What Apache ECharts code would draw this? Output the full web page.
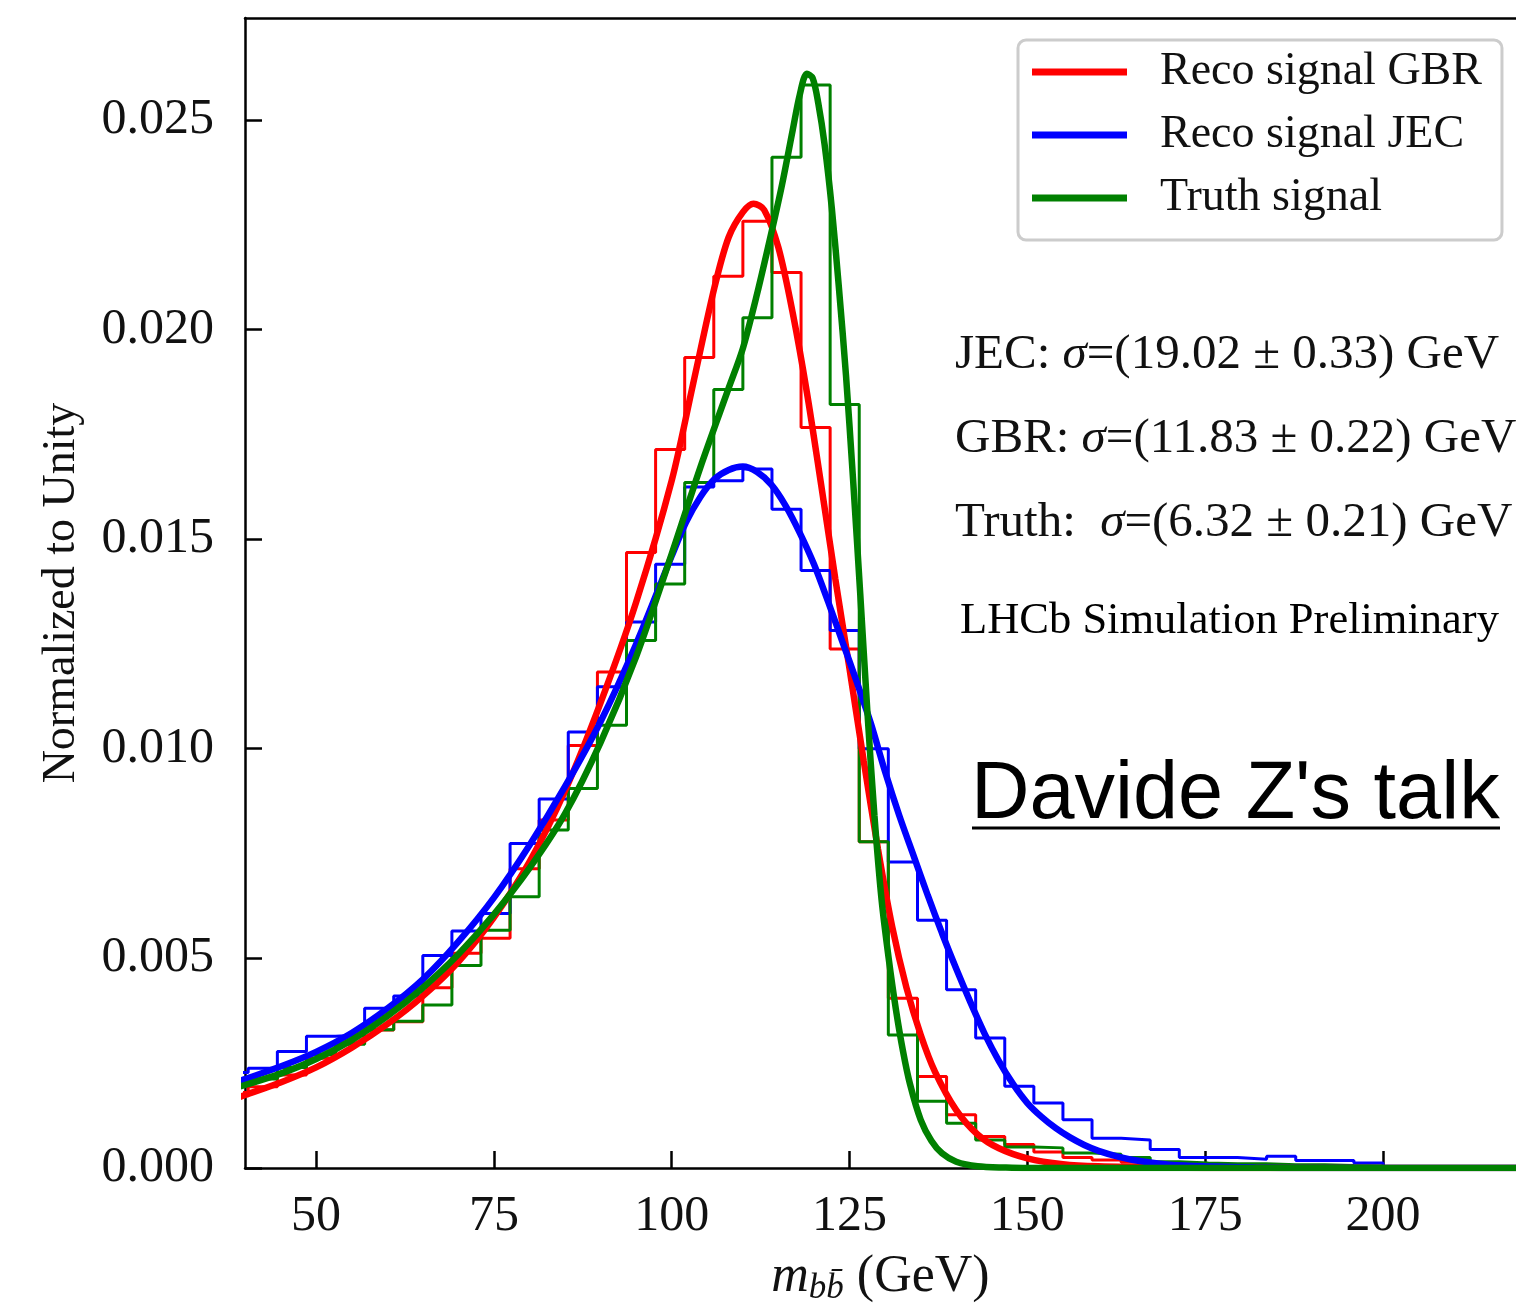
<!DOCTYPE html>
<html>
<head>
<meta charset="utf-8">
<script src="https://cdn.jsdelivr.net/npm/echarts@6/dist/echarts.min.js"></script>
<style>
  html, body { margin: 0; padding: 0; background: #fff; }
  #main { width: 1516px; height: 1311px; }
</style>
</head>
<body>
<div id="main"></div>
<script>
// left edges of the histogram bins (GeV); the last bin closes at histEnd
var binEdges = [36.36, 40.45, 44.55, 48.64, 52.73, 56.82, 60.91, 65.00, 69.09, 73.18,
  77.27, 81.36, 85.45, 89.55, 93.64, 97.73, 101.82, 105.91, 110.00, 114.09,
  118.18, 122.27, 126.36, 130.45, 134.55, 138.64, 142.73, 146.82, 150.91, 155.00,
  159.09, 163.18, 167.27, 171.36, 175.45, 179.55, 183.64, 187.73, 191.82, 195.91];
var histEnd = 200;

var gbrHist = [0.00180, 0.00194, 0.00222, 0.00262, 0.00298, 0.00329, 0.00349, 0.00430, 0.00512, 0.00548,
  0.00714, 0.00830, 0.01008, 0.01183, 0.01468, 0.01714, 0.01933, 0.02127, 0.02258, 0.02136,
  0.01766, 0.01238, 0.00778, 0.00405, 0.00218, 0.00127, 0.00075, 0.00056, 0.00038, 0.00025,
  0.00019, 0.00014, 0.00010, 0.00008, 0.00006, 0.00005, 0.00004, 0.00003, 0.00002, 0.00002];

var jecHist = [0.00228, 0.00238, 0.00278, 0.00314, 0.00318, 0.00381, 0.00410, 0.00507, 0.00565, 0.00607,
  0.00774, 0.00880, 0.01040, 0.01148, 0.01302, 0.01440, 0.01624, 0.01639, 0.01667, 0.01571,
  0.01425, 0.01282, 0.01000, 0.00730, 0.00591, 0.00425, 0.00310, 0.00195, 0.00155, 0.00115,
  0.00071, 0.00067, 0.00044, 0.00025, 0.00025, 0.00021, 0.00028, 0.00018, 0.00018, 0.00012];

var truthHist = [0.00198, 0.00212, 0.00240, 0.00270, 0.00295, 0.00330, 0.00350, 0.00389, 0.00483, 0.00567,
  0.00647, 0.00806, 0.00905, 0.01056, 0.01258, 0.01393, 0.01635, 0.01857, 0.02028, 0.02411,
  0.02583, 0.01821, 0.00778, 0.00317, 0.00159, 0.00107, 0.00067, 0.00050, 0.00048, 0.00036,
  0.00033, 0.00025, 0.00015, 0.00012, 0.00010, 0.00010, 0.00008, 0.00008, 0.00006, 0.00005];

// fitted curves as [GeV, value]
var gbrFit = [[36, 0.00150], [40, 0.00174], [45, 0.00204], [50, 0.00240], [55, 0.00287],
  [60, 0.00343], [65, 0.00410], [70, 0.00492], [75, 0.00598], [80, 0.00730], [85, 0.00900],
  [90, 0.01110], [95, 0.01350], [100, 0.01640], [103, 0.01870], [106, 0.02100], [108, 0.02220],
  [110, 0.02280], [111.5, 0.02300], [113, 0.02285], [115, 0.02195], [117, 0.02040], [119, 0.01850],
  [121, 0.01630], [123, 0.01405], [125, 0.01190], [127, 0.00970], [129, 0.00760], [131, 0.00575],
  [133, 0.00430], [135, 0.00318], [137, 0.00230], [140, 0.00138], [143, 0.00080], [146, 0.00047],
  [150, 0.00023], [155, 0.00009], [160, 0.00004], [170, 0.00001], [180, 0], [220, 0]];

var jecFit = [[36, 0.00188], [40, 0.00212], [45, 0.00242], [50, 0.00277], [55, 0.00322],
  [60, 0.00380], [65, 0.00450], [70, 0.00540], [75, 0.00645], [80, 0.00770], [85, 0.00910],
  [90, 0.01065], [95, 0.01250], [100, 0.01460], [102, 0.01540], [104, 0.01600], [106, 0.01643],
  [108, 0.01665], [110, 0.01673], [112, 0.01660], [114, 0.01630], [116, 0.01580], [118, 0.01515],
  [120, 0.01440], [122, 0.01350], [124, 0.01255], [126, 0.01160], [128, 0.01060], [130, 0.00945],
  [132, 0.00840], [134, 0.00745], [136, 0.00650], [138, 0.00560], [140, 0.00475], [142, 0.00395],
  [144, 0.00320], [146, 0.00255], [148, 0.00200], [150, 0.00155], [152, 0.00122], [154, 0.00095],
  [156, 0.00073], [158, 0.00055], [160, 0.00041], [163, 0.00026], [166, 0.00016], [170, 0.00008],
  [175, 0.00004], [182, 0.00001], [190, 0], [220, 0]];

var truthFit = [[36, 0.00178], [40, 0.00198], [45, 0.00225], [50, 0.00260], [55, 0.00305],
  [60, 0.00362], [65, 0.00430], [70, 0.00510], [75, 0.00605], [80, 0.00715], [85, 0.00845],
  [90, 0.01015], [95, 0.01220], [100, 0.01465], [104, 0.01670], [108, 0.01860], [110, 0.01955],
  [112, 0.02085], [114, 0.02230], [115.5, 0.02345], [117, 0.02475], [118, 0.02560], [119, 0.02610],
  [119.8, 0.02600], [120.6, 0.02540], [121.5, 0.02440], [122.5, 0.02290], [123.5, 0.02100],
  [124.5, 0.01890], [125.5, 0.01640], [126.5, 0.01370], [127.5, 0.01090], [128.5, 0.00840],
  [129.5, 0.00640], [130.5, 0.00500], [131.5, 0.00380], [132.5, 0.00280], [133.5, 0.00200],
  [135, 0.00115], [136.5, 0.00065], [138, 0.00035], [140, 0.00015], [143, 0.00004], [147, 0.00001],
  [150, 0], [220, 0]];

var xTicks = [50, 75, 100, 125, 150, 175, 200];
var yTicks = [0, 0.005, 0.010, 0.015, 0.020, 0.025];

var seriesNames = ['Reco signal GBR', 'Reco signal JEC', 'Truth signal'];
var seriesColors = ['#ff0000', '#0000ff', '#008000'];

var serif = '"Liberation Serif", "DejaVu Serif", serif';

function stepData(values) {
  var d = binEdges.map(function (e, i) { return [e, values[i]]; });
  d.push([histEnd, values[values.length - 1]]);
  d.push([histEnd, 0]);
  return d;
}

var chartDom = document.getElementById('main');
var myChart = echarts.init(chartDom);
var option;

var hists = [gbrHist, jecHist, truthHist];
var fits = [gbrFit, jecFit, truthFit];
var series = [];

hists.forEach(function (h, i) {
  series.push({
    name: seriesNames[i] + ' hist',
    type: 'line',
    step: 'end',
    data: stepData(h),
    symbol: 'none',
    lineStyle: { color: seriesColors[i], width: 3 },
    itemStyle: { color: seriesColors[i] },
    z: 2
  });
});
fits.forEach(function (f, i) {
  series.push({
    name: seriesNames[i],
    type: 'line',
    data: f,
    smooth: 0.3,
    symbol: 'none',
    lineStyle: { color: seriesColors[i], width: 6.5 },
    itemStyle: { color: seriesColors[i] },
    z: 3
  });
});

var annText = { fontFamily: serif, fontSize: 49, fill: '#111' };
var annSigma = { fontFamily: serif, fontStyle: 'italic', fontSize: 49, fill: '#111' };

option = {
  animation: false,
  backgroundColor: '#fff',
  grid: { left: 245, right: 0, top: 18, bottom: 141 },
  legend: {
    data: seriesNames,
    orient: 'vertical',
    left: 1018,
    top: 40,
    icon: 'rect',
    itemWidth: 95,
    itemHeight: 7,
    itemGap: 13,
    padding: [7, 20, 17, 14],
    backgroundColor: '#fff',
    borderColor: '#cccccc',
    borderWidth: 3,
    borderRadius: 8,
    textStyle: {
      fontFamily: serif,
      fontSize: 46,
      color: '#111',
      lineHeight: 44,
      padding: [6, 0, 0, 28]
    }
  },
  xAxis: [{
    type: 'value',
    position: 'bottom',
    min: 40,
    max: 218.7,
    axisLine: { show: true, lineStyle: { color: '#000', width: 2.5 } },
    axisTick: { show: true, inside: true, length: 17, customValues: xTicks, lineStyle: { color: '#000', width: 2.5 } },
    axisLabel: { customValues: xTicks, fontFamily: serif, fontSize: 50, color: '#111', margin: 24 },
    splitLine: { show: false },
    name: '{it|m}{sub|bb\u0304}{rm| (GeV)}',
    nameLocation: 'middle',
    nameGap: 80,
    nameTextStyle: {
      rich: {
        it: { fontFamily: serif, fontStyle: 'italic', fontSize: 52, color: '#111', lineHeight: 58 },
        sub: { fontFamily: serif, fontStyle: 'italic', fontSize: 35, color: '#111', lineHeight: 35, padding: [23, 0, 0, 0] },
        rm: { fontFamily: serif, fontSize: 52, color: '#111', lineHeight: 58 }
      }
    }
  }, {
    type: 'value',
    position: 'top',
    min: 40,
    max: 218.7,
    axisLine: { show: true, lineStyle: { color: '#000', width: 2.5 } },
    axisTick: { show: false },
    axisLabel: { show: false },
    splitLine: { show: false }
  }],
  yAxis: {
    type: 'value',
    min: 0,
    max: 0.027429,
    axisLine: { show: true, lineStyle: { color: '#000', width: 2.5 } },
    axisTick: { show: true, inside: true, length: 17, customValues: yTicks, lineStyle: { color: '#000', width: 2.5 } },
    axisLabel: {
      customValues: yTicks,
      fontFamily: serif,
      fontSize: 50,
      color: '#111',
      margin: 31,
      formatter: function (v) { return v.toFixed(3); }
    },
    splitLine: { show: false },
    name: 'Normalized to Unity',
    nameLocation: 'middle',
    nameGap: 160,
    nameTextStyle: { fontFamily: serif, fontSize: 46, color: '#111' }
  },
  graphic: [
    {
      type: 'text', left: 955, top: 331, z: 10,
      style: {
        text: '{a|JEC: }{s|\u03c3}{a|=(19.02 \u00b1 0.33) GeV}',
        rich: { a: annText, s: annSigma }
      }
    },
    {
      type: 'text', left: 955, top: 415, z: 10,
      style: {
        text: '{a|GBR: }{s|\u03c3}{a|=(11.83 \u00b1 0.22) GeV}',
        rich: { a: annText, s: annSigma }
      }
    },
    {
      type: 'text', left: 955, top: 499, z: 10,
      style: {
        text: '{a|Truth:  }{s|\u03c3}{a|=(6.32 \u00b1 0.21) GeV}',
        rich: { a: annText, s: annSigma }
      }
    },
    {
      type: 'text', left: 960, top: 599, z: 10,
      style: { text: 'LHCb Simulation Preliminary', fontFamily: serif, fontSize: 44.5, fill: '#000' }
    },
    {
      type: 'text', left: 971, top: 755, z: 10,
      style: { text: "Davide Z's talk", fontFamily: '"Liberation Sans", Arial, sans-serif', fontSize: 81, fill: '#000' }
    },
    {
      type: 'line', z: 10,
      shape: { x1: 972, y1: 828, x2: 1500, y2: 828 },
      style: { stroke: '#000', lineWidth: 3 }
    }
  ],
  series: series
};

option && myChart.setOption(option);
</script>
</body>
</html>
